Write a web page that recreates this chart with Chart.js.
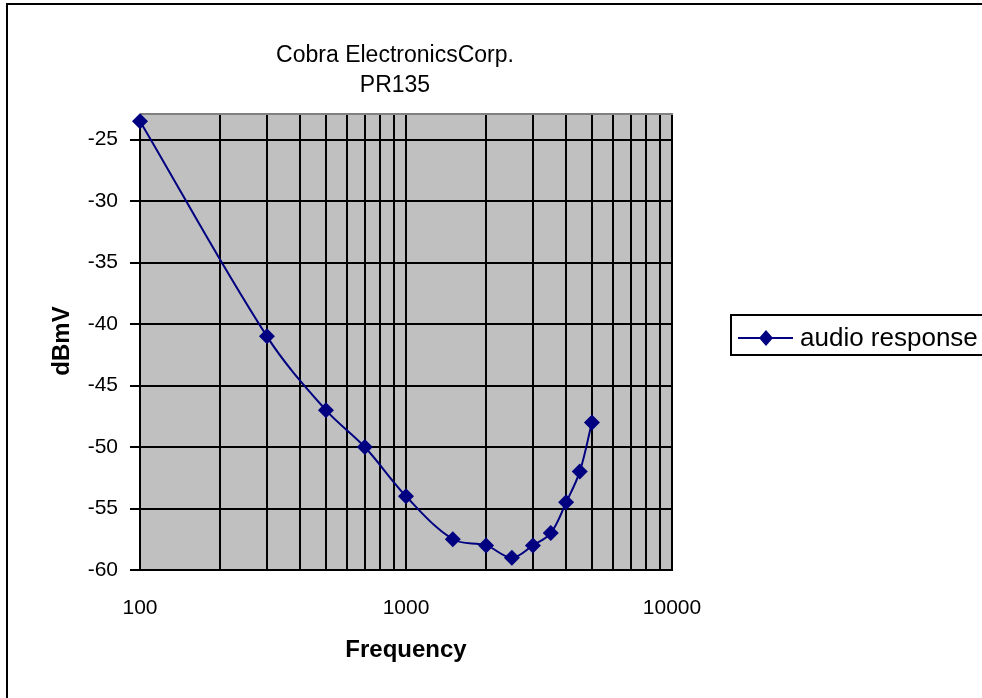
<!DOCTYPE html>
<html>
<head>
<meta charset="utf-8">
<script src="https://cdn.jsdelivr.net/npm/chart.js@4.4.0/dist/chart.umd.min.js"></script>
<style>
    html, body { margin: 0; padding: 0; background: #fff; }
    #wrap { position: relative; width: 982px; height: 698px; overflow: hidden; }
    canvas { display: block; }
</style>
</head>
<body>
<div id="wrap"><canvas id="chart" width="982" height="698"></canvas></div>
<script>
// values
const frequencies = [100, 300, 500, 700, 1000, 1500, 2000, 2500, 3000, 3500, 4000, 4500, 5000];
const response = [-23.5, -41, -47, -50, -54, -57.5, -58, -59, -58, -57, -54.5, -52, -48];
const xGridValues = [100, 200, 300, 400, 500, 600, 700, 800, 900,
                     1000, 2000, 3000, 4000, 5000, 6000, 7000, 8000, 9000, 10000];
const xTickLabels = [100, 1000, 10000];
const yTicks = [-60, -55, -50, -45, -40, -35, -30, -25];
const titleLines = ['Cobra ElectronicsCorp.', 'PR135'];
const xTitle = 'Frequency';
const yTitle = 'dBmV';
const seriesName = 'audio response';

const FONT = '"Liberation Sans", Arial, sans-serif';
const NAVY = '#000080';

const framePlugin = {
    id: 'frame',
    beforeDraw: function(chart) {
        const ctx = chart.ctx, a = chart.chartArea;
        ctx.save();
        ctx.fillStyle = '#ffffff';
        ctx.fillRect(0, 0, chart.width, chart.height);
        ctx.fillStyle = '#c0c0c0';
        ctx.fillRect(a.left, a.top, a.right - a.left, a.bottom - a.top);
        ctx.restore();
    },
    beforeDatasetsDraw: function(chart) {
        // gray edge along the top of the plot area
        const ctx = chart.ctx, a = chart.chartArea;
        ctx.save();
        ctx.strokeStyle = '#808080';
        ctx.lineWidth = 2;
        ctx.beginPath();
        ctx.moveTo(a.left, a.top - 1);
        ctx.lineTo(a.right + 1, a.top - 1);
        ctx.stroke();
        ctx.restore();
    },
    afterDraw: function(chart) {
        const ctx = chart.ctx, a = chart.chartArea;
        ctx.save();
        ctx.fillStyle = '#000';

        // title
        ctx.font = '23px ' + FONT;
        ctx.textAlign = 'center';
        ctx.textBaseline = 'middle';
        ctx.fillText(titleLines[0], 395, 56);
        ctx.fillText(titleLines[1], 395, 86);

        // axis titles
        ctx.font = 'bold 24px ' + FONT;
        ctx.fillText(xTitle, (a.left + a.right) / 2, 650);
        ctx.save();
        ctx.translate(62, 341);
        ctx.rotate(-Math.PI / 2);
        ctx.fillText(yTitle, 0, 0);
        ctx.restore();

        // legend
        ctx.strokeStyle = '#000';
        ctx.lineWidth = 2;
        ctx.strokeRect(731, 315, 262, 40);
        ctx.strokeStyle = NAVY;
        ctx.beginPath();
        ctx.moveTo(738, 338);
        ctx.lineTo(793, 338);
        ctx.stroke();
        ctx.fillStyle = NAVY;
        ctx.beginPath();
        ctx.moveTo(766, 330);
        ctx.lineTo(773, 338);
        ctx.lineTo(766, 346);
        ctx.lineTo(759, 338);
        ctx.closePath();
        ctx.fill();
        ctx.fillStyle = '#000';
        ctx.font = '26px ' + FONT;
        ctx.textAlign = 'left';
        ctx.fillText(seriesName, 800, 339);

        // outer frame
        ctx.strokeStyle = '#000';
        ctx.lineWidth = 2;
        ctx.strokeRect(7, 4, 990, 710);
        ctx.restore();
    }
};

new Chart(document.getElementById('chart'), {
    type: 'scatter',
    data: {
        datasets: [{
            label: seriesName,
            data: frequencies.map((f, i) => ({ x: f, y: response[i] })),
            showLine: true,
            borderColor: NAVY,
            borderWidth: 2,
            tension: 0.35,
            pointStyle: 'rectRot',
            pointRadius: 8,
            pointBackgroundColor: NAVY,
            pointBorderColor: NAVY,
            pointBorderWidth: 0,
            clip: false
        }]
    },
    options: {
        responsive: false,
        animation: false,
        layout: { padding: { top: 115, right: 310, bottom: 0, left: 0 } },
        plugins: {
            legend: { display: false },
            title: { display: false },
            tooltip: { enabled: false }
        },
        scales: {
            x: {
                type: 'logarithmic',
                min: 100,
                max: 10000,
                afterBuildTicks: function(scale) {
                    scale.ticks = xGridValues.map(v => ({ value: v }));
                },
                afterFit: function(scale) { scale.height = 128; },
                grid: { color: '#000', lineWidth: 2, drawTicks: false },
                border: { color: '#000', width: 2 },
                ticks: {
                    autoSkip: false,
                    maxRotation: 0,
                    padding: 26,
                    color: '#000',
                    font: { family: FONT, size: 21 },
                    callback: function(value) {
                        return xTickLabels.indexOf(value) >= 0 ? String(value) : '';
                    }
                }
            },
            y: {
                min: -60,
                max: -23,
                afterBuildTicks: function(scale) {
                    scale.ticks = yTicks.map(v => ({ value: v }));
                },
                afterFit: function(scale) { scale.width = 140; },
                grid: { color: '#000', lineWidth: 2, drawTicks: true, tickLength: 10, tickColor: '#000', tickWidth: 2 },
                border: { color: '#000', width: 2 },
                ticks: {
                    padding: 12,
                    color: '#000',
                    font: { family: FONT, size: 21 },
                    callback: function(value) { return String(value); }
                }
            }
        }
    },
    plugins: [framePlugin]
});
</script>
</body>
</html>
